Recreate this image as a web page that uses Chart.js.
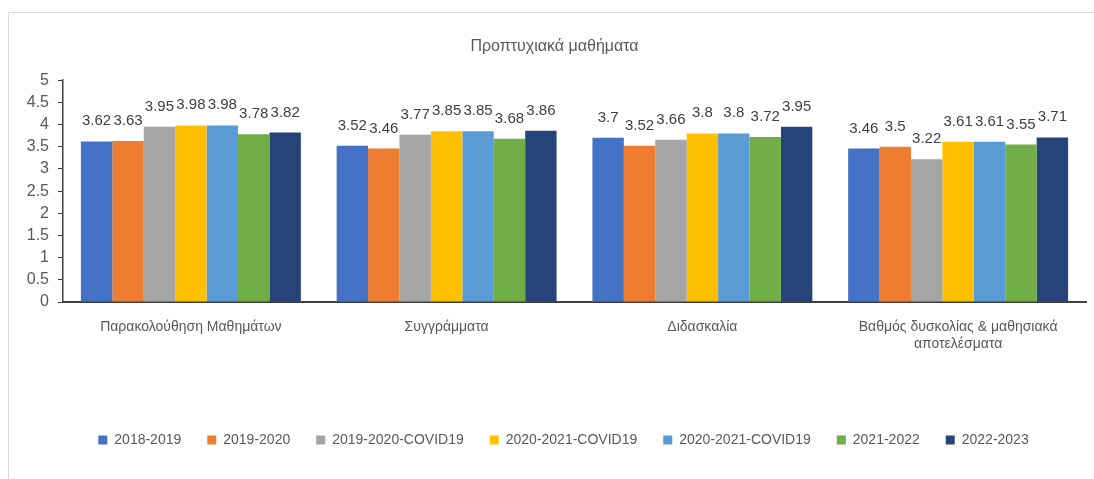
<!DOCTYPE html>
<html>
<head>
<meta charset="utf-8">
<script src="https://cdn.jsdelivr.net/npm/chart.js@4"></script>
<style>
    html, body { margin: 0; padding: 0; background: #fff; }
    body { width: 1094px; height: 479px; overflow: hidden; position: relative; }
    #marco {
        position: absolute; left: 8px; top: 12px; right: 0; bottom: 0;
        border-top: 1px solid #d9d9d9; border-left: 1px solid #d9d9d9;
    }
</style>
</head>
<body>
<div id="marco"><canvas id="graficoProptyxiaka"></canvas></div>
<script>
// Datos del gráfico
const categorias = ['Παρακολούθηση Μαθημάτων', 'Συγγράμματα', 'Διδασκαλία', ['Βαθμός δυσκολίας & μαθησιακά', 'αποτελέσματα']];
const periodos = ['2018-2019', '2019-2020', '2019-2020-COVID19', '2020-2021-COVID19', '2020-2021-COVID19', '2021-2022', '2022-2023'];
const v2018_2019 = [3.62, 3.52, 3.7, 3.46];
const v2019_2020 = [3.63, 3.46, 3.52, 3.5];
const v2019_2020_covid = [3.95, 3.77, 3.66, 3.22];
const v2020_2021_covid_a = [3.98, 3.85, 3.8, 3.61];
const v2020_2021_covid_b = [3.98, 3.85, 3.8, 3.61];
const v2021_2022 = [3.78, 3.68, 3.72, 3.55];
const v2022_2023 = [3.82, 3.86, 3.95, 3.71];
const colores = ['#4472C4', '#ED7D31', '#A5A5A5', '#FFC000', '#5B9BD5', '#70AD47', '#264478'];

const series = [v2018_2019, v2019_2020, v2019_2020_covid, v2020_2021_covid_a, v2020_2021_covid_b, v2021_2022, v2022_2023];

const FUENTE = '"Liberation Sans", Arial, sans-serif';
const GRIS = '#595959';

// etiquetas de valor encima de cada barra
const etiquetasValor = {
    id: 'etiquetasValor',
    afterDatasetsDraw(chart) {
        const ctx = chart.ctx;
        ctx.save();
        ctx.font = '15px ' + FUENTE;
        ctx.fillStyle = '#404040';
        ctx.textAlign = 'center';
        ctx.textBaseline = 'alphabetic';
        chart.data.datasets.forEach((ds, i) => {
            chart.getDatasetMeta(i).data.forEach((bar, j) => {
                ctx.fillText(String(ds.data[j]), bar.x, bar.y - 16);
            });
        });
        ctx.restore();
    }
};

// la leyenda queda un poco desplazada a la derecha
const moverLeyenda = {
    id: 'moverLeyenda',
    afterLayout(chart) {
        if (chart.legend) chart.legend.left += 18;
    }
};

document.addEventListener('DOMContentLoaded', () => {
    new Chart(document.getElementById('graficoProptyxiaka'), {
        type: 'bar',
        data: {
            labels: categorias,
            datasets: series.map((d, i) => ({
                label: periodos[i],
                data: d,
                backgroundColor: colores[i],
                borderWidth: 0,
                categoryPercentage: 0.86,
                barPercentage: 1
            }))
        },
        options: {
            responsive: true,
            maintainAspectRatio: false,
            animation: false,
            layout: {padding: {left: 14, right: 8, top: 0, bottom: 22}},
            plugins: {
                title: {
                    display: true,
                    text: 'Προπτυχιακά μαθήματα',
                    color: GRIS,
                    font: {family: FUENTE, size: 16, weight: 'normal'},
                    padding: {top: 24, bottom: 24}
                },
                legend: {
                    position: 'bottom',
                    labels: {
                        color: GRIS,
                        font: {family: FUENTE, size: 14},
                        boxWidth: 9,
                        boxHeight: 9,
                        padding: 26
                    }
                },
                tooltip: {enabled: false}
            },
            scales: {
                x: {
                    grid: {display: false},
                    border: {display: true, color: '#404040', width: 2},
                    ticks: {color: GRIS, font: {family: FUENTE, size: 14}, padding: 9, maxRotation: 0, autoSkip: false},
                    afterFit: (scale) => { scale.height = 105; }
                },
                y: {
                    min: 0,
                    max: 5,
                    grid: {drawOnChartArea: false, drawTicks: true, tickLength: 5, color: '#404040'},
                    border: {display: true, color: '#404040', width: 1.5},
                    ticks: {
                        stepSize: 0.5,
                        autoSkip: false,
                        color: GRIS,
                        font: {family: FUENTE, size: 16},
                        padding: 9,
                        callback: (v) => String(v)
                    },
                    afterFit: (scale) => { scale.width = 40; }
                }
            }
        },
        plugins: [etiquetasValor, moverLeyenda]
    });
});
</script>
</body>
</html>
